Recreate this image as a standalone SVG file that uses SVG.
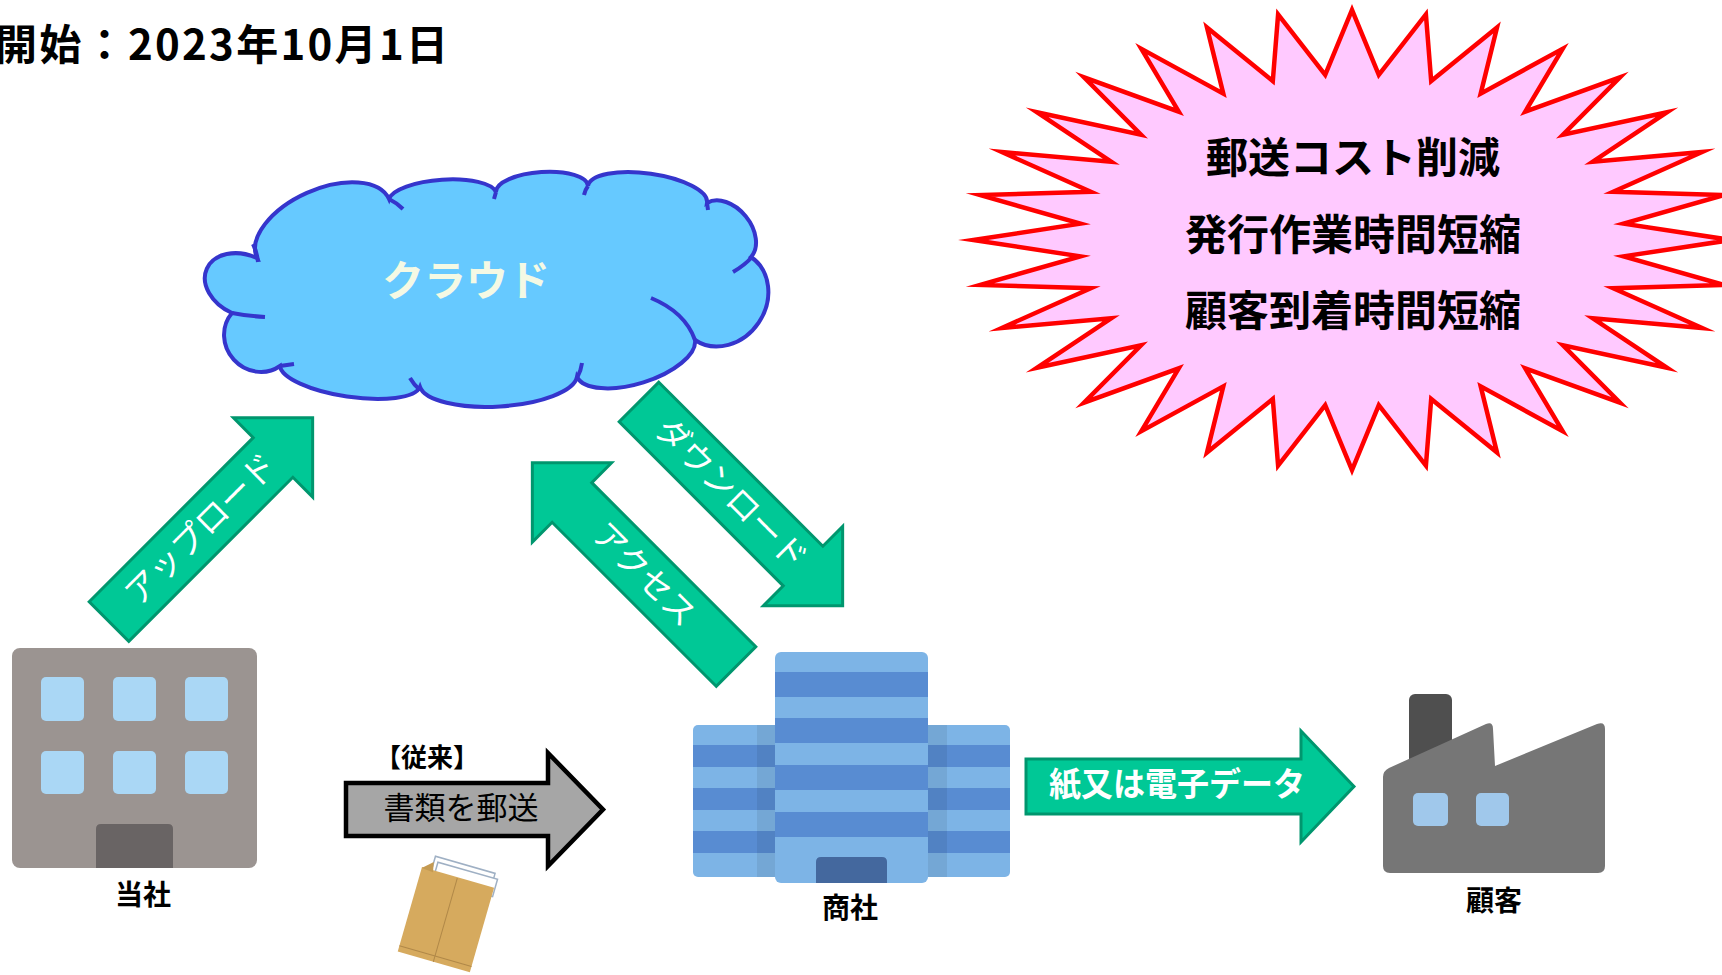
<svg xmlns="http://www.w3.org/2000/svg" width="1722" height="975" viewBox="0 0 1722 975">
  <style>
    text { font-family: "Noto Sans CJK JP", "Noto Sans CJK SC", sans-serif; }
    .b { font-weight: bold; }
    .lbl { font-size: 28px; font-weight: bold; fill: #000; text-anchor: middle; }
    .star-txt { font-size: 42px; font-weight: bold; fill: #000; text-anchor: middle; }
    .arw { fill: #00C896; stroke: #00966E; stroke-width: 3; stroke-linejoin: miter; }
    .arw-txt { font-size: 33px; fill: #FFFFFF; text-anchor: middle; }
    .cloud-line { fill: none; stroke: #3535CC; stroke-width: 4; stroke-linecap: butt; }
    .tw-l { fill: #7DB4E6; }
    .tw-d { fill: #588CD2; }
  </style>
  <defs>
    <!-- diagonal block arrow: tail centre at origin, tip at x=288 -->
    <path id="diag-arrow" d="M0,-28 L232,-28 L232,-56 L288,0 L232,56 L232,28 L0,28 Z"/>
  </defs>

  <rect x="0" y="0" width="1722" height="975" fill="#FFFFFF"/>

  <!-- start date heading -->
  <g id="title">
    <text x="-5" y="60" font-size="42" class="b" fill="#000" textLength="453" lengthAdjust="spacing">開始：2023年10月1日</text>
  </g>

  <!-- cloud -->
  <g id="cloud">
    <path d="M257,258 A30,41 114 0 0 232,313 A36,34 48 0 0 280,366 A71,22 8.5 0 0 420,387 A79,27 -3.6 0 0 577,377 A62,27 -17.4 0 0 695,340 A50,43 -56 0 0 751,257 A35,24 -129 0 0 707,203 A60,21 -172 0 0 588,186 A46,17 176 0 0 496,192 A54,18 176 0 0 389,199 A72,39 156 0 0 257,258 Z" fill="#66C9FF" stroke="#3535CC" stroke-width="4"/>
    <path class="cloud-line" d="M253,244 Q257,252 258,262 M232,313 Q248,316 265,317 M280,366 L294,364 M410,378 Q414,385 420,390 M582,363 Q581,371 577,378 M651,298 Q685,312 695,340 M733,272 Q745,265 752,257 M707,203 L708,210 M588,186 Q585,190 584,195 M496,192 L494,199 M389,199 Q397,203 403,209"/>
    <text x="466" y="296" font-size="42" class="b" fill="#F4F9E4" text-anchor="middle">クラウド</text>
  </g>

  <!-- 32-point burst with the benefits -->
  <g id="benefits">
    <polygon fill="#FFC9FF" stroke="#FF0000" stroke-width="4.5" stroke-linejoin="miter" stroke-miterlimit="20" points="1731,240 1623.7,256.3 1723.7,284.9 1613.2,288.2 1702.2,328 1592.8,318.3 1667.1,367.8 1563,345.3 1620,402.6 1525.2,368.3 1562.6,431.2 1480.7,386.4 1497,452.5 1431.2,398.9 1425.9,465.6 1378.8,405.2 1352,470 1325.2,405.2 1278.1,465.6 1272.8,398.9 1207,452.5 1223.3,386.4 1141.4,431.2 1178.8,368.3 1084,402.6 1141,345.3 1036.9,367.8 1111.2,318.3 1001.8,328 1090.8,288.2 980.3,284.9 1080.3,256.3 973,240 1080.3,223.7 980.3,195.1 1090.8,191.8 1001.8,152 1111.2,161.7 1036.9,112.2 1141,134.7 1084,77.4 1178.8,111.7 1141.4,48.8 1223.3,93.6 1207,27.5 1272.8,81.1 1278.1,14.4 1325.2,74.8 1352,10 1378.8,74.8 1425.9,14.4 1431.2,81.1 1497,27.5 1480.7,93.6 1562.6,48.8 1525.2,111.7 1620,77.4 1563,134.7 1667.1,112.2 1592.8,161.7 1702.2,152 1613.2,191.8 1723.7,195.1 1623.7,223.7"/>
    <text class="star-txt" x="1353" y="173">郵送コスト削減</text>
    <text class="star-txt" x="1353" y="250">発行作業時間短縮</text>
    <text class="star-txt" x="1353" y="326">顧客到着時間短縮</text>
  </g>

  <!-- our company: grey office building -->
  <g id="tosha">
    <rect x="12" y="648" width="245" height="220" rx="8" fill="#9B9491"/>
    <g fill="#AAD7F5">
      <rect x="41" y="677" width="43" height="44" rx="5"/>
      <rect x="113" y="677" width="43" height="44" rx="5"/>
      <rect x="185" y="677" width="43" height="44" rx="5"/>
      <rect x="41" y="751" width="43" height="43" rx="5"/>
      <rect x="113" y="751" width="43" height="43" rx="5"/>
      <rect x="185" y="751" width="43" height="43" rx="5"/>
    </g>
    <path d="M96,868 L96,829 Q96,824 101,824 L168,824 Q173,824 173,829 L173,868 Z" fill="#696464"/>
    <text class="lbl" x="143" y="905">当社</text>
  </g>

  <!-- trading company: blue striped tower -->
  <g id="shosha">
    <rect x="693" y="725" width="317" height="152" rx="5" class="tw-l"/>
    <rect x="693" y="745" width="317" height="22" class="tw-d"/>
    <rect x="693" y="788" width="317" height="22" class="tw-d"/>
    <rect x="693" y="831" width="317" height="22" class="tw-d"/>
    <rect x="757" y="725" width="18" height="152" fill="#000" opacity="0.07"/>
    <rect x="928" y="725" width="19" height="152" fill="#000" opacity="0.07"/>
    <rect x="775" y="652" width="153" height="231" rx="6" class="tw-l"/>
    <rect x="775" y="672" width="153" height="25" class="tw-d"/>
    <rect x="775" y="718" width="153" height="25" class="tw-d"/>
    <rect x="775" y="765" width="153" height="25" class="tw-d"/>
    <rect x="775" y="812" width="153" height="25" class="tw-d"/>
    <path d="M816,883 L816,862 Q816,857 821,857 L882,857 Q887,857 887,862 L887,883 Z" fill="#44689E"/>
    <text class="lbl" x="850" y="918">商社</text>
  </g>

  <!-- customer: factory -->
  <g id="kokyaku">
    <rect x="1409" y="694" width="43" height="72" rx="6" fill="#4F4F4F"/>
    <path d="M1383,777 Q1383,771 1389,768 L1486,724 Q1493,721 1493,729 L1495,766 L1597,724 Q1605,721 1605,729 L1605,866 Q1605,873 1598,873 L1390,873 Q1383,873 1383,866 Z" fill="#767676"/>
    <rect x="1413" y="793" width="35" height="33" rx="5" fill="#A0C8EB"/>
    <rect x="1476" y="793" width="33" height="33" rx="5" fill="#A0C8EB"/>
    <text class="lbl" x="1494" y="911">顧客</text>
  </g>

  <!-- kraft envelope with documents -->
  <g id="envelope" transform="translate(422,867) rotate(16)">
    <rect x="10" y="-14" width="62" height="22" fill="#FFFFFF" stroke="#9FB0C4" stroke-width="1.5"/>
    <rect x="14" y="-9" width="62" height="18" fill="#FFFFFF" stroke="#9FB0C4" stroke-width="1.5"/>
    <rect x="0" y="0" width="75" height="88" fill="#D6AA5E"/>
    <polygon points="0,1 10,-8 12,2" fill="#C49A52"/>
    <line x1="37" y1="1" x2="37" y2="88" stroke="#B08848" stroke-width="1"/>
    <line x1="0" y1="82" x2="75" y2="82" stroke="#B08848" stroke-width="1"/>
  </g>

  <!-- connectors -->
  <g id="connectors">
    <g transform="translate(109,621.5) rotate(-45)">
      <use href="#diag-arrow" class="arw"/>
      <text class="arw-txt" x="130" y="11">アップロード</text>
    </g>
    <g transform="translate(639,402) rotate(45)">
      <use href="#diag-arrow" class="arw"/>
      <text class="arw-txt" x="130" y="11">ダウンロード</text>
    </g>
    <g transform="translate(736,666.5) rotate(-135)">
      <use href="#diag-arrow" class="arw"/>
    </g>
    <text class="arw-txt" transform="translate(644,574.6) rotate(45)" x="0" y="11">アクセス</text>

    <path class="arw" d="M1026,759 L1301,759 L1301,731 L1354,786.5 L1301,842 L1301,814 L1026,814 Z"/>
    <text x="1177" y="796" font-size="33" class="b" fill="#FFFFFF" text-anchor="middle" textLength="256" lengthAdjust="spacingAndGlyphs">紙又は電子データ</text>

    <path d="M346,783 L548,783 L548,753 L603,809.5 L548,866 L548,836 L346,836 Z" fill="#A6A6A6" stroke="#000" stroke-width="4.5" stroke-linejoin="miter"/>
    <text x="461" y="819" font-size="31" fill="#000" text-anchor="middle">書類を郵送</text>
    <text x="427" y="767" font-size="26" class="b" fill="#000" text-anchor="middle">【従来】</text>
  </g>
</svg>
